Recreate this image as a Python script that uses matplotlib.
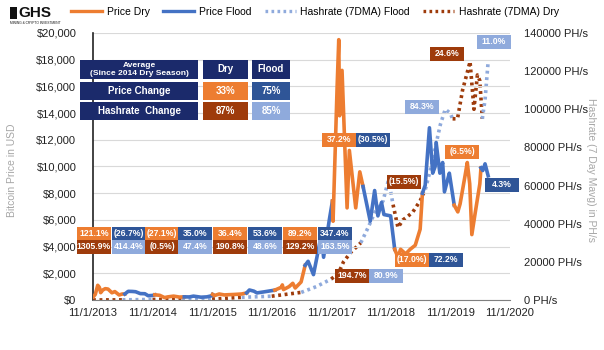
"""Bitcoin price and hashrate by Sichuan dry / flood season, 2013-2020."""
import matplotlib
matplotlib.use("Agg")
import matplotlib.pyplot as plt
from matplotlib.patches import Rectangle
from matplotlib.lines import Line2D
import pandas as pd

plt.rcParams["font.family"] = ["Liberation Sans", "DejaVu Sans"]

# ---- data ----
price_dates = [
    "2013-11-01", "2013-11-15", "2013-11-30", "2013-12-10", "2013-12-18", "2013-12-31",
    "2014-01-15", "2014-02-01", "2014-02-25", "2014-03-15", "2014-04-10", "2014-04-30",
    "2014-05-15", "2014-06-05", "2014-06-30", "2014-07-20", "2014-08-18", "2014-09-15",
    "2014-10-05", "2014-10-31", "2014-11-15", "2014-12-15", "2015-01-14", "2015-02-01",
    "2015-03-10", "2015-04-15", "2015-05-15", "2015-06-15", "2015-07-10", "2015-08-25",
    "2015-09-30", "2015-10-31", "2015-11-04", "2015-11-15", "2015-12-15", "2016-01-15",
    "2016-02-15", "2016-03-15", "2016-04-30", "2016-05-31", "2016-06-17", "2016-07-15",
    "2016-08-02", "2016-09-15", "2016-10-31", "2016-11-20", "2016-12-31", "2017-01-05",
    "2017-01-12", "2017-02-15", "2017-03-10", "2017-03-25", "2017-04-30", "2017-05-25",
    "2017-06-12", "2017-07-15", "2017-08-05", "2017-09-01", "2017-09-15", "2017-10-20",
    "2017-11-08", "2017-11-12", "2017-12-07", "2017-12-17", "2017-12-22", "2018-01-06",
    "2018-02-06", "2018-02-20", "2018-03-31", "2018-04-25", "2018-05-15", "2018-06-28",
    "2018-07-25", "2018-08-14", "2018-09-05", "2018-09-20", "2018-10-31", "2018-11-25",
    "2018-12-15", "2018-12-31", "2019-01-31", "2019-02-28", "2019-03-31", "2019-04-30",
    "2019-05-14", "2019-05-31", "2019-06-26", "2019-07-16", "2019-07-31", "2019-08-06",
    "2019-08-29", "2019-09-15", "2019-09-26", "2019-10-26", "2019-10-31", "2019-11-25",
    "2019-12-17", "2019-12-31", "2020-01-31", "2020-02-13", "2020-02-28", "2020-03-12",
    "2020-03-31", "2020-04-30", "2020-05-07", "2020-05-18", "2020-06-01", "2020-06-20",
]
price_usd = [
    210, 420, 1100, 950, 550, 750,
    850, 820, 540, 630, 380, 450,
    450, 650, 640, 620, 480, 470,
    320, 340, 390, 350, 180, 230,
    290, 220, 235, 230, 290, 210,
    235, 320, 420, 330, 450, 380,
    400, 415, 450, 530, 750, 660,
    530, 610, 700, 740, 960, 1130,
    780, 1000, 1250, 900, 1350, 2600,
    2900, 1900, 3200, 4900, 3200, 6000,
    7400, 5900, 16000, 19500, 13800, 17200,
    6900, 11200, 6900, 9600, 8500, 5900,
    8200, 6300, 7300, 6400, 6300, 3800,
    3200, 3800, 3450, 3800, 4100, 5300,
    8000, 8600, 12900, 9500, 10000, 11800,
    9500, 10300, 8100, 9500, 9100, 7100,
    6600, 7200, 9350, 10300, 8700, 4900,
    6400, 8700, 9900, 9700, 10200, 9300,
]

hash_dates = [
    "2013-11-01", "2014-05-01", "2014-11-01", "2015-05-01", "2015-11-01", "2016-05-01",
    "2016-11-01", "2017-05-01", "2017-08-01", "2017-11-01", "2017-12-15", "2018-01-15",
    "2018-03-01", "2018-05-01", "2018-06-15", "2018-08-01", "2018-09-15", "2018-10-15",
    "2018-10-31", "2018-11-15", "2018-12-15", "2019-01-15", "2019-02-15", "2019-03-15",
    "2019-04-30", "2019-06-01", "2019-07-01", "2019-08-01", "2019-09-01", "2019-10-01",
    "2019-10-31", "2019-11-15", "2019-12-15", "2020-01-15", "2020-02-15", "2020-03-01",
    "2020-03-25", "2020-04-15", "2020-04-30", "2020-05-15", "2020-06-01", "2020-06-20",
]
hash_phs = [
    5, 80, 280, 350, 480, 1400,
    2000, 4000, 7000, 11000, 14000, 20000,
    25000, 30000, 38000, 47000, 52000, 62000,
    57000, 50000, 38000, 42000, 44000, 46000,
    52000, 58000, 68000, 80000, 92000, 100000,
    98000, 95000, 95000, 110000, 120000, 125000,
    100000, 118000, 115000, 95000, 105000, 125000,
]

year_ticks = ["2013", "2014", "2015", "2016", "2017", "2018", "2019", "2020"]
usd_ticks = list(range(0, 20001, 2000))
phs_ticks = list(range(0, 140001, 20000))

table_rows = ["Price Change", "Hashrate  Change"]
table_dry = ["33%", "87%"]
table_flood = ["75%", "85%"]

# season change labels: text, colour key, left px, top px
season_labels = [
    ("121.1%", "dry", 77, 227), ("(26.7%)", "flood", 112, 227),
    ("(27.1%)", "dry", 145, 227), ("35.0%", "flood", 178, 227),
    ("36.4%", "dry", 213, 227), ("53.6%", "flood", 248, 227),
    ("89.2%", "dry", 283, 227), ("347.4%", "flood", 318, 227),
    ("1305.9%", "hdry", 77, 240), ("414.4%", "hflood", 112, 240),
    ("(0.5%)", "hdry", 145, 240), ("47.4%", "hflood", 178, 240),
    ("190.8%", "hdry", 213, 240), ("48.6%", "hflood", 248, 240),
    ("129.2%", "hdry", 283, 240), ("163.5%", "hflood", 318, 240),
    ("37.2%", "dry", 322, 133), ("(30.5%)", "flood", 356, 133),
    ("194.7%", "hdry", 335, 269), ("80.9%", "hflood", 369, 269),
    ("(17.0%)", "dry", 395, 253), ("72.2%", "flood", 429, 253),
    ("(15.5%)", "hdry", 387, 175), ("84.3%", "hflood", 405, 100),
    ("(6.5%)", "dry", 445, 145), ("24.6%", "hdry", 430, 47),
    ("11.0%", "hflood", 477, 35), ("4.3%", "flood", 485, 178),
]

C = {"dry": "#ED7D31", "flood": "#2F5597", "hflood": "#8FAADC", "hdry": "#9E3B0B",
     "line_flood": "#4472C4", "navy": "#1B2A6B"}

W, H = 604, 350
fig = plt.figure(figsize=(W / 100, H / 100), dpi=100)
ax = fig.add_axes([93 / W, 1 - 300 / H, 417 / W, 267 / H])
ax2 = ax.twinx()

pdates = pd.to_datetime(price_dates)
hdates = pd.to_datetime(hash_dates)
edges = pd.date_range("2013-11-01", "2020-11-01", freq="6MS")


def season_plot(axis, dates, values, dry_color, flood_color, **kw):
    s = pd.Series(values, index=dates)
    for a, b in zip(edges[:-1], edges[1:]):
        seg = s[(s.index >= a) & (s.index < b)]
        nxt = s[s.index >= b]
        if len(nxt):
            seg = pd.concat([seg, nxt.iloc[:1]])
        if len(seg) < 2:
            continue
        color = dry_color if a.month == 11 else flood_color
        axis.plot(seg.index, seg.values, color=color, **kw)


season_plot(ax2, hdates, hash_phs, C["hdry"], C["hflood"],
            lw=2.6, linestyle=(0, (0.8, 1.0)), zorder=2)
season_plot(ax, pdates, price_usd, C["dry"], C["line_flood"], lw=2.6, zorder=3)
ax.set_zorder(ax2.get_zorder() + 1)
ax.patch.set_visible(False)

ax.set_xlim(pd.Timestamp("2013-11-01"), pd.Timestamp("2020-11-01"))
ax.set_ylim(0, 20000)
ax2.set_ylim(0, 140000)
ax.set_xticks([pd.Timestamp(f"{y}-11-01") for y in year_ticks])
ax.set_xticklabels([f"11/1/{y}" for y in year_ticks], fontsize=8, color="#222222")
ax.set_yticks(usd_ticks)
ax.set_yticklabels([f"${v:,}" for v in usd_ticks], fontsize=8, color="#222222")
ax2.set_yticks(phs_ticks)
ax2.set_yticklabels([f"{v} PH/s" for v in phs_ticks], fontsize=8, color="#222222")
ax.tick_params(axis="y", length=0, pad=12)
ax.tick_params(axis="x", length=0, pad=6)
ax2.tick_params(length=0, pad=10)
ax.grid(axis="y", color="#D9D9D9", lw=0.8)
ax.set_axisbelow(True)
for a in (ax, ax2):
    for side in ("top", "right", "left", "bottom"):
        a.spines[side].set_visible(False)
ax.spines["left"].set_visible(True)
ax.spines["left"].set_color("#222222")
ax.spines["left"].set_linewidth(1.2)
ax.spines["bottom"].set_visible(True)
ax.spines["bottom"].set_color("#7F7F7F")

fig.text(12 / W, 1 - 170 / H, "Bitcoin Price in USD", rotation=90, fontsize=7.5,
         color="#A6A6A6", ha="center", va="center")
fig.text(591 / W, 1 - 170 / H, "Hashrate (7 Day Mavg) in PH/s", rotation=270,
         fontsize=7.5, color="#A6A6A6", ha="center", va="center")


def box(x, y, w, h, color, text, size=6.2):
    fig.add_artist(Rectangle((x / W, 1 - (y + h) / H), w / W, h / H,
                             transform=fig.transFigure, facecolor=color,
                             edgecolor="none", zorder=5))
    fig.text((x + w / 2) / W, 1 - (y + h / 2) / H, text, color="white",
             fontsize=size, fontweight="bold", ha="center", va="center", zorder=6)


for text, key, x, y in season_labels:
    box(x, y, 34, 13.5, C[key], text)

# summary table
box(80, 60, 118, 19, C["navy"], "Average\n(Since 2014 Dry Season)", size=6)
box(203, 60, 45, 19, C["navy"], "Dry", size=7)
box(252, 60, 38, 19, C["navy"], "Flood", size=7)
for i, (row, d, f) in enumerate(zip(table_rows, table_dry, table_flood)):
    y = 82 + i * 20
    box(80, y, 118, 18, C["navy"], row, size=7)
    box(203, y, 45, 18, C["dry"] if i == 0 else C["hdry"], d, size=7)
    box(252, y, 38, 18, C["flood"] if i == 0 else C["hflood"], f, size=7)

# logo
fig.add_artist(Rectangle((10 / W, 1 - 19 / H), 7 / W, 12 / H, transform=fig.transFigure,
                         facecolor="#111111", edgecolor="none"))
fig.text(18 / W, 1 - 13 / H, "GHS", fontsize=11, fontweight="bold", color="#111111",
         ha="left", va="center")
fig.text(10 / W, 1 - 22.5 / H, "MINING & CRYPTO INVESTMENT", fontsize=2.3,
         color="#111111", ha="left", va="center")

handles = [
    Line2D([], [], color=C["dry"], lw=2.4),
    Line2D([], [], color=C["line_flood"], lw=2.4),
    Line2D([], [], color=C["hflood"], lw=2.4, linestyle=(0, (0.8, 1.0))),
    Line2D([], [], color=C["hdry"], lw=2.4, linestyle=(0, (0.8, 1.0))),
]
fig.legend(handles, ["Price Dry", "Price Flood", "Hashrate (7DMA) Flood", "Hashrate (7DMA) Dry"],
           loc="center", bbox_to_anchor=(315 / W, 1 - 12 / H), ncol=4, frameon=False,
           fontsize=7.5, handlelength=3.0, columnspacing=1.3, handletextpad=0.4,
           borderaxespad=0, borderpad=0)

fig.savefig("out.png", dpi=100)
